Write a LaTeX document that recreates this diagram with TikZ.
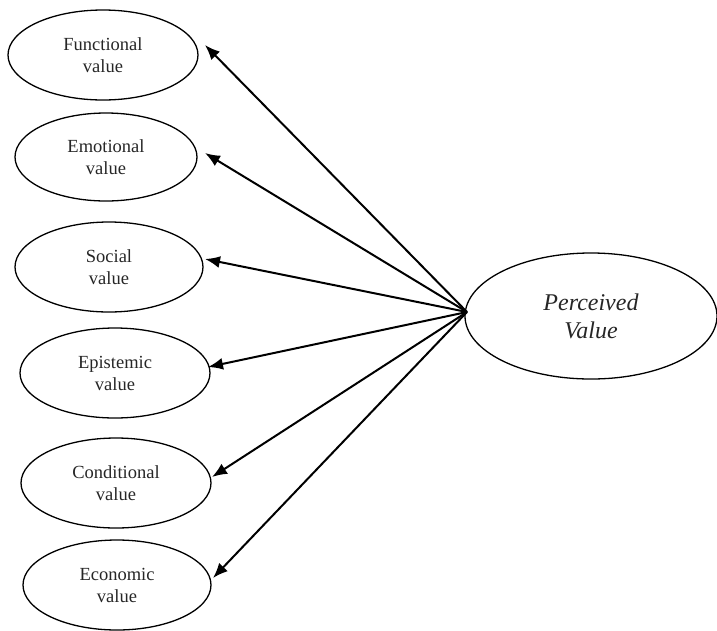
\documentclass[tikz,border=0pt]{standalone}
\usepackage{fontspec}
\setmainfont{Liberation Serif}
\usetikzlibrary{shapes.geometric,arrows.meta}
\begin{document}
\begin{tikzpicture}[x=1pt,y=-1pt,
  valbox/.style={draw, ellipse, line width=1.3pt, inner sep=0pt, minimum width=190pt, minimum height=90pt,
    align=center, text=black!85, font=\fontsize{18.5}{22}\selectfont},
  pvbox/.style={draw, ellipse, line width=1.3pt, inner sep=0pt, minimum width=252pt, minimum height=126pt,
    align=center, text=black!85, font=\fontsize{24}{28}\selectfont\itshape},
  arr/.style={line width=2pt, -{Latex[length=15pt,width=12pt]}}]
\useasboundingbox (0,0) rectangle (717,630);
\node[valbox] (fv) at (103,55) {Functional\\value};
\node[valbox, minimum width=182pt, minimum height=88pt] (ev) at (106,157) {Emotional\\value};
\node[valbox, minimum width=188pt] (sv) at (109,267) {Social\\value};
\node[valbox] (epv) at (115,373) {Epistemic\\value};
\node[valbox] (cv) at (116,483) {Conditional\\value};
\node[valbox, minimum width=188pt] (ecv) at (117,585) {Economic\\value};
\node[pvbox] (pv) at (591,316) {Perceived\\Value};
\coordinate (src) at (467,312);
\coordinate (t1) at (205,45);
\coordinate (t2) at (205,153);
\coordinate (t3) at (205,259);
\coordinate (t4) at (208,367);
\coordinate (t5) at (212,477);
\coordinate (t6) at (213,578);
\foreach \t in {t1,t2,t3,t4,t5,t6} \draw[arr] (src) -- (\t);
\end{tikzpicture}
\end{document}
